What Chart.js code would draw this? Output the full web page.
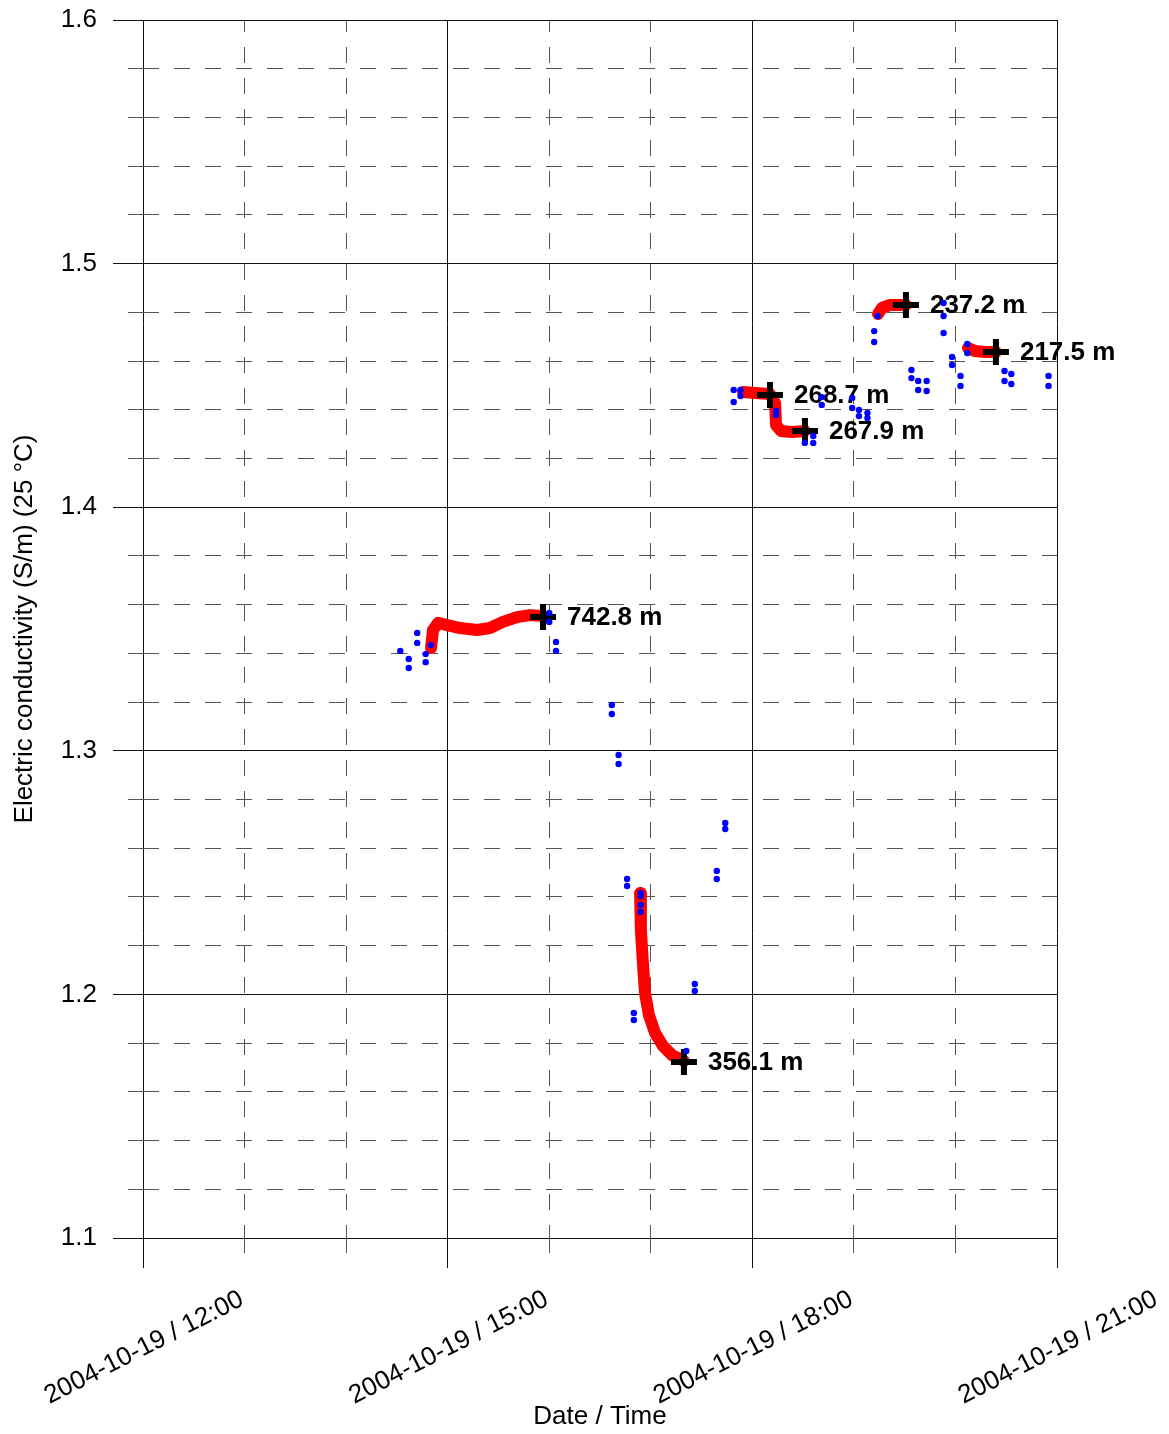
<!DOCTYPE html>
<html>
<head>
<meta charset="utf-8">
<title>Electric conductivity</title>
<script src="https://cdn.jsdelivr.net/npm/chart.js@4.4.0/dist/chart.umd.min.js"></script>
<style>
  html, body { margin: 0; padding: 0; background: #fff; }
  #wrap { width: 1169px; height: 1434px; position: relative; }
</style>
</head>
<body>
<div id="wrap"><canvas id="ecChart"></canvas></div>
<script>
// Single readings (blue dots), time of day on 2004-10-19
const blueTimes = [
    '14:32', '14:37', '14:37', '14:42', '14:42', '14:47', '14:47', '14:50',
    '16:00', '16:00', '16:04', '16:04',
    '16:37', '16:37', '16:41', '16:41', '16:46', '16:46', '16:50', '16:50',
    '16:54', '16:54', '16:54', '16:54',
    '17:21', '17:26', '17:26', '17:39', '17:39', '17:44', '17:44',
    '17:49', '17:49', '17:53', '17:53',
    '18:14', '18:14', '18:31', '18:36', '18:36', '18:41', '18:41',
    '18:59', '18:59', '19:03', '19:03', '19:08', '19:08',
    '19:14', '19:12', '19:12', '19:34', '19:34', '19:38', '19:38', '19:43', '19:43',
    '19:53', '19:53', '19:53', '19:58', '19:58', '20:03', '20:03', '20:07', '20:07',
    '20:29', '20:29', '20:33', '20:33', '20:55', '20:55'
];
const blueValues = [
    1.3410, 1.3377, 1.3340, 1.3484, 1.3443, 1.3397, 1.3364, 1.3434,
    1.3566, 1.3529, 1.3447, 1.3410,
    1.3188, 1.3151, 1.2983, 1.2946, 1.2474, 1.2445, 1.1924, 1.1895,
    1.2416, 1.2404, 1.2367, 1.2338,
    1.1768, 1.2043, 1.2014, 1.2507, 1.2474, 1.2704, 1.2679,
    1.4481, 1.4432, 1.4481, 1.4456,
    1.4395, 1.4378, 1.4264, 1.4292, 1.4264, 1.4452, 1.4420,
    1.4448, 1.4407, 1.4399, 1.4374, 1.4387, 1.4366,
    1.4785, 1.4723, 1.4678, 1.4563, 1.4530, 1.4518, 1.4481, 1.4518, 1.4477,
    1.4838, 1.4785, 1.4715, 1.4617, 1.4584, 1.4539, 1.4498, 1.4670, 1.4633,
    1.4559, 1.4518, 1.4547, 1.4506, 1.4539, 1.4498
];

// Continuous logging runs (red traces)
const run1Times = ['14:50:10', '14:51:20', '14:54:20', '14:59:40', '15:07:20', '15:17:20',
                   '15:25:00', '15:32:40', '15:41:00', '15:48:40', '15:56:20'];
const run1Values = [1.3422, 1.3496, 1.3525, 1.3516, 1.3504, 1.3496,
                    1.3504, 1.3529, 1.3549, 1.3557, 1.3553];

const run2Times = ['16:53:40', '16:54:10', '16:55:25', '16:56:35', '16:58:55',
                   '17:02:30', '17:07:15', '17:12:30', '17:19:35'];
const run2Values = [1.2416, 1.2264, 1.2121, 1.2006, 1.1915,
                    1.1842, 1.1788, 1.1751, 1.1727];

const run3Times = ['17:54:30', '18:01:35', '18:10:25', '18:13:25', '18:14:00',
                   '18:16:55', '18:23:25', '18:31:05'];
const run3Values = [1.4473, 1.4469, 1.4465, 1.4428, 1.4337,
                    1.4313, 1.4309, 1.4313];

const run4Times = ['19:14:15', '19:16:35', '19:21:20', '19:30:45'];
const run4Values = [1.4793, 1.4818, 1.4830, 1.4830];

const run5Times = ['20:07:25', '20:11:30', '20:17:25', '20:23:55'];
const run5Values = [1.4654, 1.4641, 1.4637, 1.4637];

// Station markers with depth labels
const markerTimes = ['15:56:20', '17:19:35', '18:10:25', '18:31:05', '19:30:45', '20:23:55'];
const markerValues = [1.3549, 1.1722, 1.4461, 1.4313, 1.4830, 1.4637];
const markerLabels = ['742.8 m', '356.1 m', '268.7 m', '267.9 m', '237.2 m', '217.5 m'];

const dateLabel = '2004-10-19';
const FONT = "'Liberation Sans', Arial, sans-serif";

function toHours(s) {
    const parts = s.split(':').map(Number);
    return parts[0] + parts[1] / 60 + (parts[2] || 0) / 3600;
}

function toPoints(times, values) {
    return times.map((t, i) => ({ x: toHours(t), y: values[i] }));
}

function isMajorY(v) {
    return Math.abs(v * 10 - Math.round(v * 10)) < 1e-6;
}

function isMajorX(v) {
    return Math.round(v) % 3 === 0;
}

const runs = [
    [run1Times, run1Values],
    [run2Times, run2Values],
    [run3Times, run3Values],
    [run4Times, run4Values],
    [run5Times, run5Values]
];

const datasets = [{
    label: 'readings',
    data: toPoints(blueTimes, blueValues),
    pointRadius: 3.2,
    pointBackgroundColor: '#0000ff',
    pointBorderWidth: 0,
    order: 0
}, {
    label: 'markers',
    data: toPoints(markerTimes, markerValues),
    pointStyle: 'cross',
    pointRadius: 13,
    pointBorderWidth: 6,
    pointBorderColor: '#000',
    order: 1
}];

runs.forEach(run => {
    datasets.push({
        label: 'run',
        data: toPoints(run[0], run[1]),
        showLine: true,
        borderColor: '#ff0000',
        borderWidth: 12,
        borderCapStyle: 'round',
        borderJoinStyle: 'round',
        pointRadius: 0,
        order: 2
    });
});

// depth labels next to the markers, drawn before the blue readings
const markerLabelPlugin = {
    id: 'markerLabels',
    afterDatasetDraw(chart, args) {
        if (chart.data.datasets[args.index].label !== 'markers') return;
        const ctx = chart.ctx;
        ctx.save();
        ctx.font = 'bold 26px ' + FONT;
        ctx.fillStyle = '#000';
        ctx.textBaseline = 'middle';
        ctx.textAlign = 'left';
        args.meta.data.forEach((pt, i) => {
            ctx.fillText(markerLabels[i], pt.x + 24, pt.y + 1);
        });
        ctx.restore();
    }
};

Chart.defaults.font.family = FONT;
Chart.defaults.font.size = 26;
Chart.defaults.color = '#000';

new Chart(document.getElementById('ecChart'), {
    type: 'scatter',
    data: { datasets: datasets },
    plugins: [markerLabelPlugin],
    options: {
        responsive: true,
        maintainAspectRatio: false,
        animation: false,
        layout: { padding: { top: 20, right: 112, bottom: 0, left: 0 } },
        plugins: {
            legend: { display: false },
            tooltip: { enabled: false }
        },
        scales: {
            x: {
                type: 'linear',
                min: 12,
                max: 21,
                afterFit: function(scale) {
                    scale.height = 196;
                    scale.paddingLeft = 0;
                    scale.paddingRight = 0;
                },
                ticks: {
                    stepSize: 1,
                    autoSkip: false,
                    minRotation: 27,
                    maxRotation: 27,
                    labelOffset: 99,
                    padding: 16,
                    font: { size: 26 },
                    callback: function(value) {
                        if (!isMajorX(value)) return '';
                        const h = String(Math.round(value)).padStart(2, '0');
                        return dateLabel + ' / ' + h + ':00';
                    }
                },
                grid: {
                    color: ctx => (ctx.tick && isMajorX(ctx.tick.value)) ? '#111' : '#555',
                    tickColor: ctx => (ctx.tick && isMajorX(ctx.tick.value)) ? '#111' : '#555',
                    lineWidth: 1,
                    tickLength: 30,
                    tickBorderDash: ctx => (ctx.tick && isMajorX(ctx.tick.value)) ? [] : [15, 1000]
                },
                border: {
                    display: false,
                    dash: ctx => (ctx.tick && !isMajorX(ctx.tick.value)) ? [16, 15] : [],
                    dashOffset: 4
                },
                title: {
                    display: true,
                    text: 'Date / Time',
                    font: { size: 26 },
                    padding: { top: 0, bottom: 2 }
                }
            },
            y: {
                type: 'linear',
                min: 1.1,
                max: 1.6,
                afterFit: function(scale) {
                    scale.width = 143;
                    scale.paddingTop = 0;
                    scale.paddingBottom = 0;
                },
                ticks: {
                    stepSize: 0.02,
                    autoSkip: false,
                    padding: 16,
                    font: { size: 26 },
                    callback: function(value) {
                        return isMajorY(value) ? value.toFixed(1) : '';
                    }
                },
                grid: {
                    color: ctx => (ctx.tick && isMajorY(ctx.tick.value)) ? '#111' : '#555',
                    tickColor: ctx => (ctx.tick && isMajorY(ctx.tick.value)) ? '#111' : '#555',
                    lineWidth: 1,
                    tickLength: 30,
                    tickBorderDash: ctx => (ctx.tick && isMajorY(ctx.tick.value)) ? [] : [0, 15, 15, 1000]
                },
                border: {
                    display: false,
                    dash: ctx => (ctx.tick && !isMajorY(ctx.tick.value)) ? [16, 15] : []
                },
                title: {
                    display: true,
                    text: 'Electric conductivity (S/m) (25 °C)',
                    font: { size: 26 },
                    padding: { top: 9, bottom: 0 }
                }
            }
        }
    }
});
</script>
</body>
</html>
